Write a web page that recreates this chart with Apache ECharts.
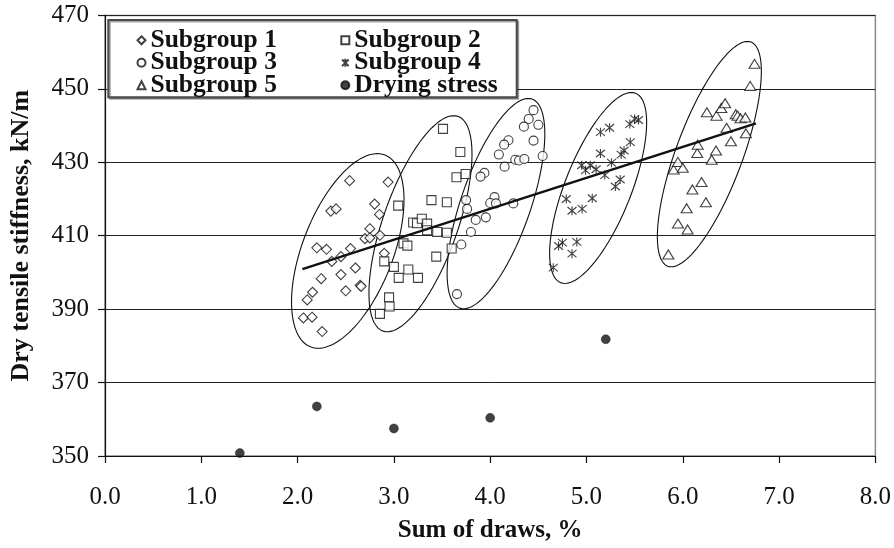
<!DOCTYPE html>
<html>
<head>
<meta charset="utf-8">
<script src="https://cdn.jsdelivr.net/npm/echarts@6/dist/echarts.min.js"></script>
<style>
html,body{margin:0;padding:0;background:#fff;}
#chart{width:894px;height:548px;}
</style>
</head>
<body>
<div id="chart"></div>
<script>
// ---- data ----
const sg1X = [2.54,2.94,2.345,2.40,2.80,2.85,2.75,2.70,2.75,2.855,2.20,2.30,2.55,2.45,2.355,2.90,2.60,2.45,2.245,2.50,2.65,2.66,2.155,2.10,2.06,2.15,2.255];
const sg1Y = [425.0,424.6,416.7,417.3,418.6,415.8,411.9,409.2,409.4,410.1,406.7,406.3,406.5,404.3,403.0,405.2,401.2,399.4,398.3,395.0,396.5,396.2,394.6,392.5,387.6,387.8,383.9];

const sg2X = [3.51,3.69,3.65,3.745,3.045,3.39,3.55,3.20,3.24,3.29,3.345,3.345,3.45,3.55,3.10,3.14,3.60,3.44,2.90,3.00,3.15,3.05,3.25,2.95,2.955,2.855];
const sg2Y = [439.1,432.8,425.9,426.8,418.2,419.7,419.1,413.6,413.4,414.6,413.3,411.5,411.0,410.8,407.9,407.3,406.5,404.3,403.0,401.5,400.8,398.5,398.5,393.2,390.7,388.7];

const sg3X = [4.45,4.40,4.35,4.50,4.19,4.145,4.45,4.09,4.545,4.26,4.30,4.355,4.15,3.94,3.90,4.045,4.00,4.06,4.24,3.75,3.76,3.85,3.955,3.80,3.70,3.655];
const sg3Y = [444.2,441.8,439.7,440.2,436.0,434.8,435.9,432.1,431.7,430.7,430.5,430.9,428.8,427.1,426.1,420.5,418.9,418.8,418.8,419.7,417.3,414.3,415.0,411.0,407.6,394.1];

const sg4X = [4.79,4.85,4.955,5.06,4.71,4.75,4.90,4.85,4.655,4.95,5.04,4.99,5.10,5.19,5.26,5.35,5.30,5.145,5.36,5.39,5.455,5.145,5.24,5.45,5.50,5.54];
const sg4Y = [420.0,416.8,417.3,420.2,407.2,408.1,408.3,405.1,401.3,429.2,429.2,427.8,428.1,426.5,429.9,425.3,423.4,432.4,432.1,433.2,435.5,438.2,439.4,440.4,441.8,441.5];

const sg5X = [5.85,5.95,6.05,6.04,6.10,6.195,6.24,5.905,5.95,6.00,6.15,6.155,6.30,6.345,6.50,6.455,6.655,6.25,6.35,6.40,6.44,6.55,6.57,6.60,6.65,6.70,6.745];
const sg5Y = [404.9,413.3,411.7,417.5,422.6,424.6,419.1,428.0,430.1,428.5,432.5,434.8,430.7,433.2,435.7,439.4,437.9,443.6,442.7,444.8,446.1,443.1,442.7,442.0,442.2,450.8,456.8];

const dryX = [1.4,2.2,3.0,4.0,5.2];
const dryY = [350.8,363.5,357.5,360.4,381.8];

const trendX = [2.05,6.76];
const trendY = [400.9,440.6];

// ellipses: centre, top point of the ellipse, half width (x units) at the centre row
const ellCX = [2.521,3.276,4.060,5.121,6.276];
const ellCY = [405.85,413.26,418.74,423.0,432.22];
const ellTopX = [2.828,3.621,4.396,5.466,6.672];
const ellTopY = [432.35,442.68,447.37,449.0,462.91];
const ellHalfW = [0.497,0.409,0.380,0.367,0.367];

const xTicks = [0,1,2,3,4,5,6,7,8];
const yTicks = [350,370,390,410,430,450,470];

// ---- chart ----
const zip = (xs, ys) => xs.map((x, i) => [x, ys[i]]);
const FONT = '"Liberation Serif","Times New Roman",serif';
const starPath = 'path://M0,0L10,10M10,0L0,10M5,-1L5,11';

const chart = echarts.init(document.getElementById('chart'), null, {renderer: 'canvas'});

const openStyle = {color: '#fff', borderColor: '#111', borderWidth: 1.1};
const legendText = {fontFamily: FONT, fontWeight: 'bold', fontSize: 25.5, color: '#111', padding: [0, 0, 0, 0]};

const option = {
  backgroundColor: '#fff',
  animation: false,
  grid: {left: 103.3, right: 17.3, top: 15.4, bottom: 87.6, show: true, borderColor: '#8a8a8a', borderWidth: 1.5, backgroundColor: 'transparent'},
  xAxis: {
    type: 'value', min: xTicks[0], max: xTicks[xTicks.length - 1], interval: 1,
    name: 'Sum of draws, %', nameLocation: 'middle', nameGap: 62,
    nameTextStyle: {fontFamily: FONT, fontWeight: 'bold', fontSize: 25, color: '#111'},
    axisLine: {show: true, onZero: false, lineStyle: {color: '#111', width: 1.2}},
    axisTick: {show: true, inside: false, length: 7, lineStyle: {color: '#111', width: 1.2}},
    axisLabel: {fontFamily: FONT, fontSize: 25, color: '#111', margin: 29, formatter: v => v.toFixed(1)},
    splitLine: {show: false}
  },
  yAxis: {
    type: 'value', min: yTicks[0], max: yTicks[yTicks.length - 1], interval: 20,
    name: 'Dry tensile stiffness, kN/m', nameLocation: 'middle', nameGap: 71,
    nameTextStyle: {fontFamily: FONT, fontWeight: 'bold', fontSize: 26, color: '#111'},
    axisLine: {show: true, lineStyle: {color: '#111', width: 1.2}},
    axisTick: {show: true, inside: false, length: 7, lineStyle: {color: '#111', width: 1.2}},
    axisLabel: {fontFamily: FONT, fontSize: 25, color: '#111', margin: 16},
    splitLine: {show: true, lineStyle: {color: '#222', width: 1}}
  },
  legend: [
    {
      left: 131.5, top: 22.3, orient: 'vertical', itemGap: -3.5, itemWidth: 8, itemHeight: 8, z: 20,
      data: ['Subgroup 1', 'Subgroup 3', 'Subgroup 5'],
      textStyle: legendText
    },
    {
      left: 334.5, top: 22.3, orient: 'vertical', itemGap: -3.5, itemWidth: 8, itemHeight: 8, z: 20,
      data: ['Subgroup 2', 'Subgroup 4', 'Drying stress'],
      textStyle: legendText
    }
  ],
  graphic: [
    {type: 'rect', z: 10, shape: {x: 108.3, y: 20, width: 408.4, height: 77.3},
     style: {fill: '#fff', stroke: '#4a4a4a', lineWidth: 2, shadowColor: 'rgba(0,0,0,0.35)', shadowOffsetX: 1.5, shadowOffsetY: 1.5, shadowBlur: 0}}
  ],
  series: [
    {
      type: 'custom', name: 'ellipses', z: 1, silent: true,
      data: ellCX.map((c, i) => [c, ellCY[i], ellTopX[i], ellTopY[i], ellHalfW[i]]),
      encode: {x: 0, y: 1},
      renderItem: function (params, api) {
        const cx = api.value(0), cy = api.value(1), tx = api.value(2), ty = api.value(3), hw = api.value(4);
        const pts = [];
        const N = 120;
        for (let k = 0; k < N; k++) {
          const t = 2 * Math.PI * k / N;
          pts.push(api.coord([cx + (tx - cx) * Math.cos(t) + hw * Math.sin(t), cy + (ty - cy) * Math.cos(t)]));
        }
        return {type: 'polygon', shape: {points: pts}, style: {fill: 'none', stroke: '#111', lineWidth: 1.1}};
      }
    },
    {type: 'scatter', name: 'Subgroup 1', z: 3, symbol: 'diamond', symbolSize: 10, itemStyle: openStyle, data: zip(sg1X, sg1Y)},
    {type: 'scatter', name: 'Subgroup 2', z: 3, symbol: 'rect', symbolSize: 9, itemStyle: openStyle, data: zip(sg2X, sg2Y)},
    {type: 'scatter', name: 'Subgroup 3', z: 3, symbol: 'circle', symbolSize: 9, itemStyle: openStyle, data: zip(sg3X, sg3Y)},
    {type: 'scatter', name: 'Subgroup 4', z: 3, symbol: starPath, symbolSize: 9, itemStyle: {color: 'none', borderColor: '#111', borderWidth: 1.1}, data: zip(sg4X, sg4Y)},
    {type: 'scatter', name: 'Subgroup 5', z: 3, symbol: 'triangle', symbolSize: [11, 9], itemStyle: openStyle, data: zip(sg5X, sg5Y)},
    {type: 'scatter', name: 'Drying stress', z: 3, symbol: 'circle', symbolSize: 9, itemStyle: {color: '#111', borderColor: '#111', borderWidth: 0.5}, data: zip(dryX, dryY)},
    {type: 'line', name: 'trend', z: 5, symbol: 'none', silent: true, lineStyle: {color: '#111', width: 2.5}, data: zip(trendX, trendY)}
  ]
};
chart.setOption(option);
</script>
</body>
</html>
